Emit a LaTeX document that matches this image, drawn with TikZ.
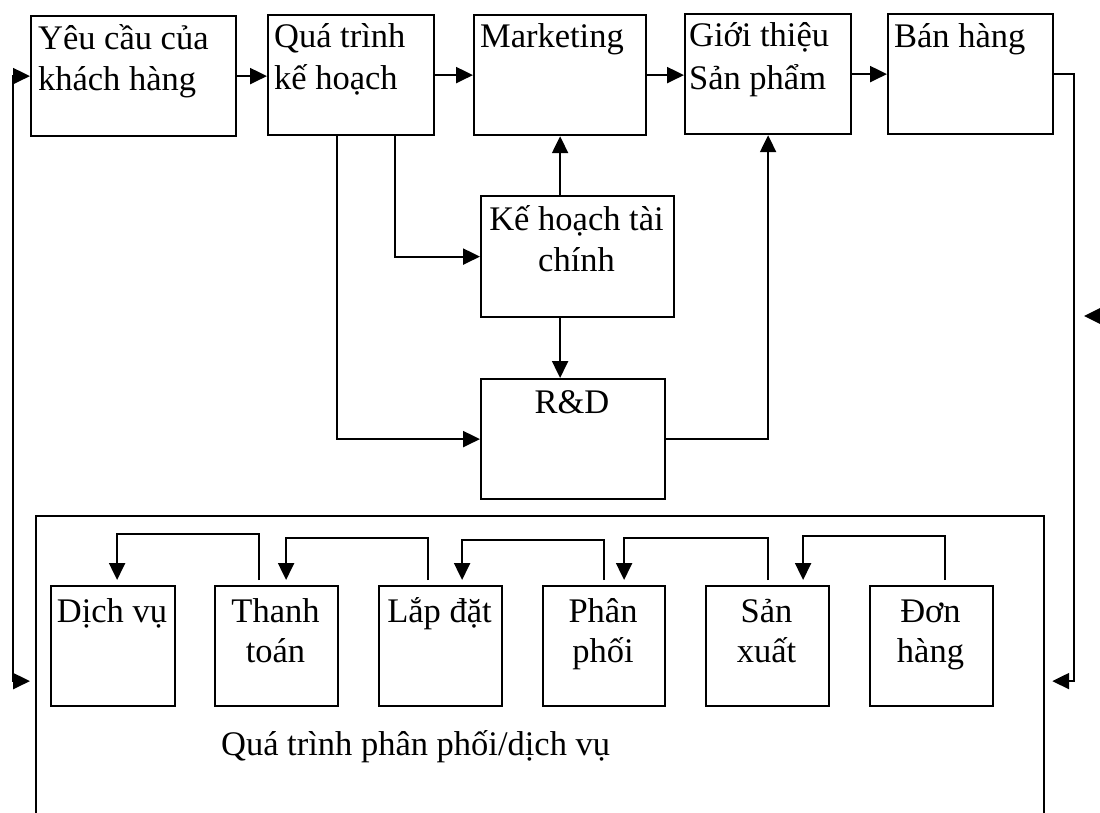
\documentclass[tikz,border=0pt]{standalone}
\usepackage{fontspec}
\setmainfont{Liberation Serif}
\usetikzlibrary{arrows.meta}
\begin{document}
\begin{tikzpicture}[x=1pt,y=-1pt,line width=2.2pt,
  box/.style={draw,rectangle,inner sep=0pt,anchor=north west},
  txt/.style={inner sep=0pt,anchor=base west,font=\fontsize{34.5}{41}\selectfont},
  ctxt/.style={txt,anchor=base},
  arr/.style={-{Triangle[length=17pt,width=16pt]}},
  barr/.style={{Triangle[length=17pt,width=16pt]}-{Triangle[length=17pt,width=16pt]}}]
\useasboundingbox (0,0) rectangle (1100,813);
\clip (0,0) rectangle (1100,813);
% top row
\node[box,minimum width=205pt,minimum height=120pt] (yeu) at (30,15) {};
\node[box,minimum width=166pt,minimum height=120pt] (qua) at (267,14) {};
\node[box,minimum width=172pt,minimum height=120pt] (mkt) at (473,14) {};
\node[box,minimum width=166pt,minimum height=120pt] (gt) at (684,13) {};
\node[box,minimum width=165pt,minimum height=120pt] (ban) at (887,13) {};
\node[txt] (yeuA) at (37,50) {Yêu cầu của};
\node[txt] (yeuB) at (37,91) {khách hàng};
\node[txt] (quaA) at (273,48) {Quá trình};
\node[txt] (quaB) at (273,90) {kế hoạch};
\node[txt] (mktA) at (479,48) {Marketing};
\node[txt] (gtA) at (688,47) {Giới thiệu};
\node[txt] (gtB) at (688,90) {Sản phẩm};
\node[txt] (banA) at (893,48) {Bán hàng};
% middle
\node[box,minimum width=193pt,minimum height=121pt] (kh) at (480,195) {};
\node[box,minimum width=184pt,minimum height=120pt] (rd) at (480,378) {};
\node[ctxt] (khA) at (576.5,230) {Kế hoạch tài};
\node[ctxt] (khB) at (576.5,271) {chính};
\node[ctxt] (rdA) at (572,413) {R\&D};
% big box
\node[box,minimum width=1008pt,minimum height=330pt] (big) at (35,515) {};
\node[txt] (bigA) at (220,755) {Quá trình phân phối/dịch vụ};
% bottom boxes
\node[box,minimum width=124pt,minimum height=120pt] (dv) at (50,585) {};
\node[box,minimum width=123pt,minimum height=120pt] (tt) at (214,585) {};
\node[box,minimum width=123pt,minimum height=120pt] (ld) at (378,585) {};
\node[box,minimum width=122pt,minimum height=120pt] (pp) at (542,585) {};
\node[box,minimum width=123pt,minimum height=120pt] (sx) at (705,585) {};
\node[box,minimum width=123pt,minimum height=120pt] (dh) at (869,585) {};
\node[ctxt] (dvA) at (112,622) {Dịch vụ};
\node[ctxt] (ttA) at (275.5,622) {Thanh};
\node[ctxt] (ttB) at (275.5,662) {toán};
\node[ctxt] (ldA) at (439.5,622) {Lắp đặt};
\node[ctxt] (ppA) at (603,622) {Phân};
\node[ctxt] (ppB) at (603,662) {phối};
\node[ctxt] (sxA) at (766.5,622) {Sản};
\node[ctxt] (sxB) at (766.5,662) {xuất};
\node[ctxt] (dhA) at (930.5,622) {Đơn};
\node[ctxt] (dhB) at (930.5,662) {hàng};
% coordinates
\coordinate (lin) at ([xshift=-5pt]big.west);
\coordinate (rin) at ([xshift=7pt]big.east);
% top row arrows
\draw[arr] (yeu.east) -- (yeu.east -| qua.west);
\draw[arr] (qua.east) -- (qua.east -| mkt.west);
\draw[arr] (mkt.east) -- (mkt.east -| gt.west);
\draw[arr] (gt.east) -- (gt.east -| ban.west);
\draw[arr] (ban.east) -- ++(20,0) |- (rin);
\draw[barr] (lin) -| ([xshift=-17pt]yeu.west) -- (yeu.west);
% stray arrowhead
\fill (1084,316) -- ++(16,-8) -- ++(0,16) -- cycle;
% middle arrows
\draw[arr] ([xshift=70pt]qua.south west) |- (rd.west);
\draw[arr] ([xshift=128pt]qua.south west) |- (kh.west);
\draw[arr] (kh.north -| mkt.south) -- (mkt.south);
\draw[arr] (kh.south -| mkt.south) -- (rd.north -| mkt.south);
\draw[arr] (rd.east) -| (gt.south);
% bottom arrows
\draw[arr] ([xshift=13.5pt,yshift=5pt]dh.north) -- ++(0,-44) -| ([xshift=35.5pt,yshift=5pt]sx.north);
\draw[arr] ([yshift=5pt]sx.north) -- ++(0,-42) -| ([xshift=20pt,yshift=5pt]pp.north);
\draw[arr] ([yshift=5pt]pp.north) -- ++(0,-40) -| ([xshift=21.5pt,yshift=5pt]ld.north);
\draw[arr] ([xshift=-12.5pt,yshift=5pt]ld.north) -- ++(0,-42) -| ([xshift=9.5pt,yshift=5pt]tt.north);
\draw[arr] ([xshift=-17.5pt,yshift=5pt]tt.north) -- ++(0,-46) -| ([xshift=4pt,yshift=5pt]dv.north);
\end{tikzpicture}
\end{document}
